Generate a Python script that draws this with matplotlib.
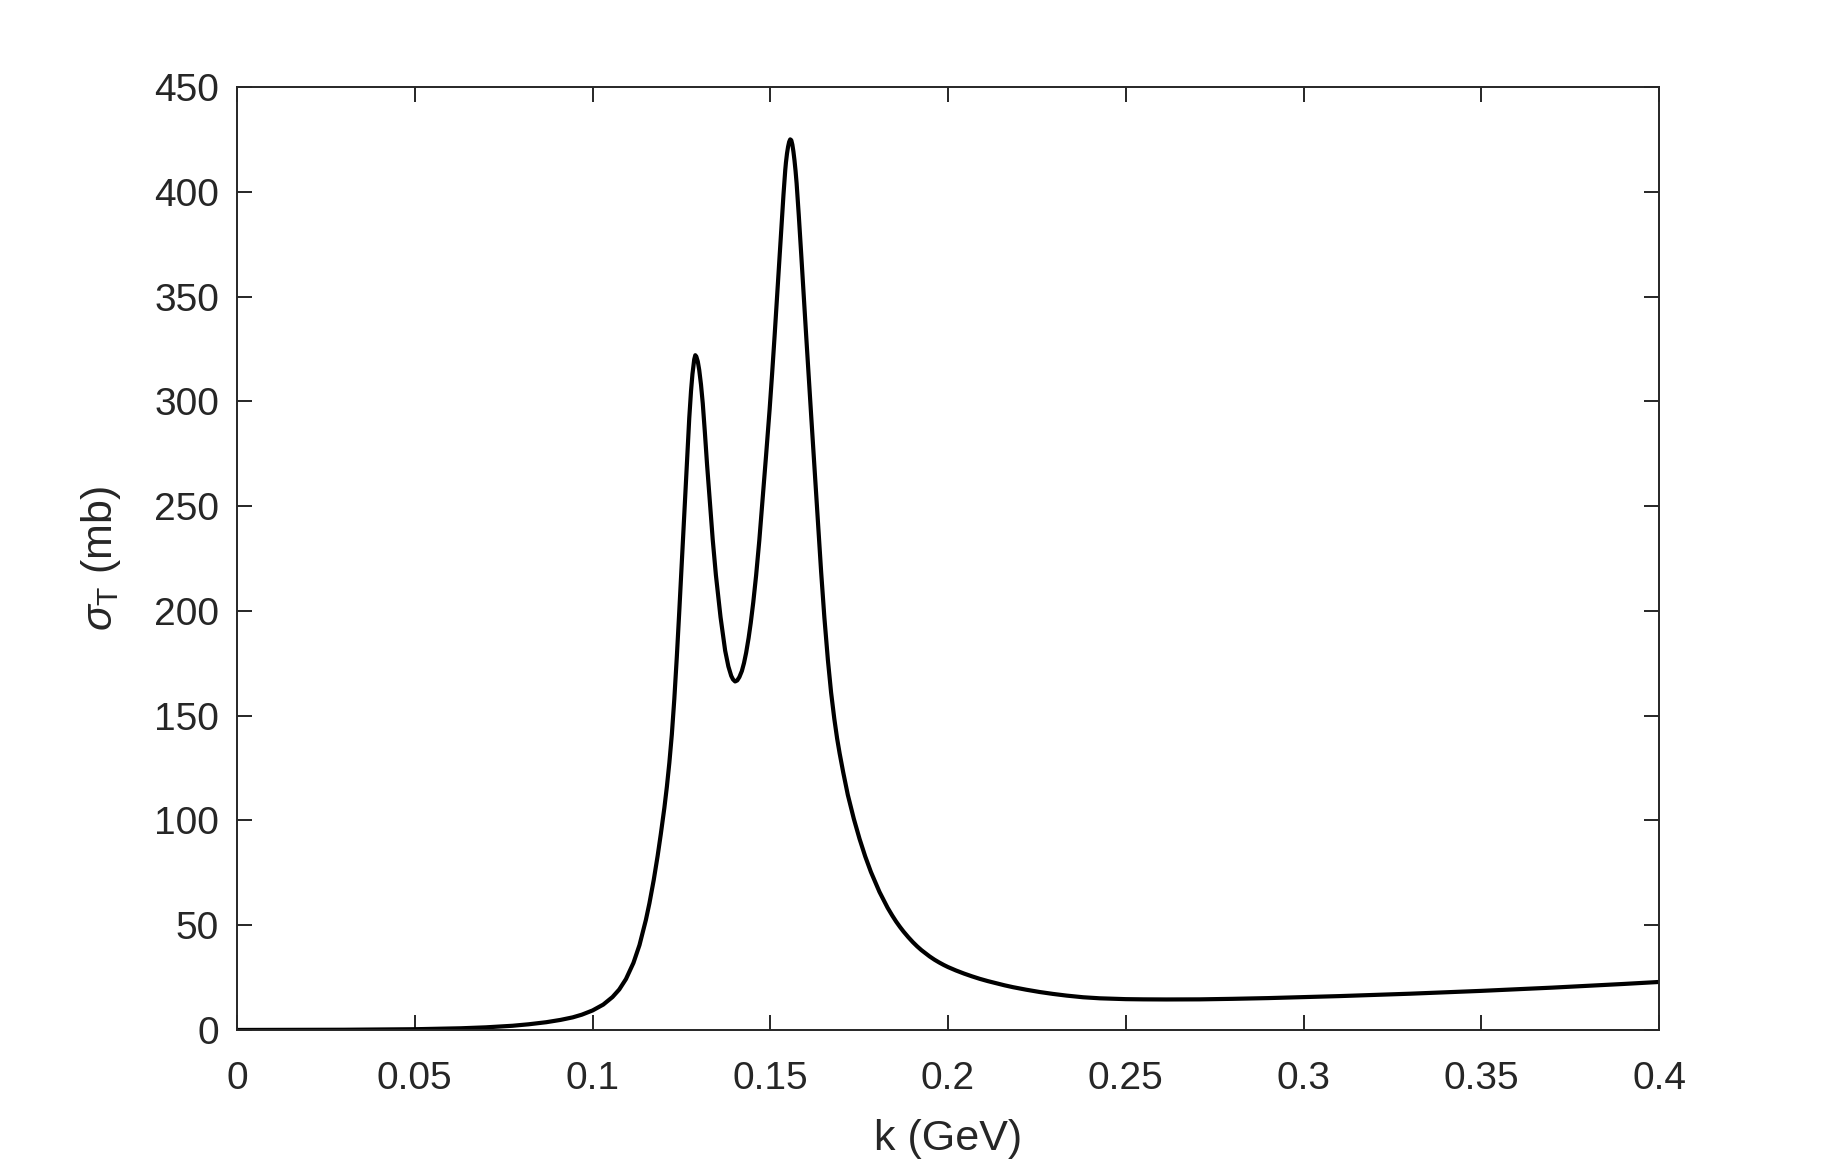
import numpy as np
import matplotlib
matplotlib.use('Agg')
import matplotlib.pyplot as plt

# valores: k (GeV) y sigma_T (mb)
k = [0.000, 0.020, 0.030, 0.040, 0.050, 0.063, 0.070, 0.0775, 0.082, 0.087,
     0.091, 0.0944, 0.097, 0.100, 0.103, 0.1056, 0.1075, 0.1094, 0.1115, 0.1132,
     0.1150, 0.1160, 0.1172, 0.1183, 0.1192, 0.1202, 0.1209, 0.1216, 0.1223, 0.1230,
     0.1237, 0.1244, 0.1251, 0.1258, 0.1265, 0.1272, 0.1277, 0.1281, 0.1286, 0.1289,
     0.1292, 0.1296, 0.1300, 0.1305, 0.1310, 0.1316, 0.1322, 0.1330, 0.1338, 0.1347,
     0.1360, 0.1373, 0.1382, 0.1390, 0.1395, 0.1401, 0.1407, 0.1413, 0.1420, 0.1426,
     0.1432, 0.1439, 0.1445, 0.1452, 0.1460, 0.1469, 0.1479, 0.1488, 0.1498, 0.1505,
     0.1512, 0.1526, 0.1533, 0.1537, 0.1540, 0.1542, 0.1544, 0.1547, 0.1550, 0.1553,
     0.1556, 0.1559, 0.1562, 0.1565, 0.1568, 0.1571, 0.1574, 0.1580, 0.1587, 0.1601,
     0.1615, 0.1629, 0.1636, 0.1643, 0.1652, 0.1662, 0.1671, 0.1680, 0.1688, 0.1695,
     0.1705, 0.1718, 0.1735, 0.1751, 0.1767, 0.1783, 0.1807, 0.1830, 0.1843, 0.1854,
     0.1865, 0.1875, 0.1888, 0.1901, 0.1913, 0.1925, 0.1937, 0.1948, 0.1962, 0.1975,
     0.1988, 0.2000, 0.2022, 0.2045, 0.2067, 0.2089, 0.2112, 0.2135, 0.2159, 0.2183,
     0.2220, 0.2258, 0.2295, 0.2333, 0.2380, 0.2427, 0.2500, 0.2550, 0.2614, 0.2708,
     0.2800, 0.2900, 0.3000, 0.3100, 0.3200, 0.3300, 0.3400, 0.3500, 0.3600, 0.3700,
     0.3800, 0.3900, 0.4000]
sigma = [0.0, 0.05, 0.1, 0.2, 0.35, 0.8, 1.25, 2.0, 2.7, 3.7,
         4.8, 6.0, 7.3, 9.3, 12.1, 15.7, 19.3, 24.3, 32.0, 40.5,
         52.5, 60.5, 71.5, 83, 93.5, 106, 116, 127.5, 141, 158,
         178, 200, 223, 246, 270, 292, 305, 313, 320, 322,
         321.3, 319, 315, 308, 299, 285, 270, 252, 234, 217,
         197, 181, 173.5, 169, 167.3, 166.3, 166.8, 168.4, 171.3, 175.1,
         180, 187.1, 194.3, 204, 216.8, 233.5, 254.8, 274, 296, 313,
         331, 369, 388, 398.5, 406, 410.3, 414, 418.3, 421.5, 423.8,
         425, 424.6, 422.5, 419.2, 415, 410, 404, 389, 370, 331,
         293, 256, 237, 218.5, 197, 176.5, 161, 148.5, 139, 132,
         123, 112.2, 100.7, 91.2, 82.8, 75.4, 65.9, 58.3, 54.6, 51.7,
         49.1, 46.9, 44.3, 41.9, 39.9, 38.1, 36.5, 35.1, 33.5, 32.2,
         31.0, 30.0, 28.4, 26.9, 25.6, 24.4, 23.3, 22.3, 21.3, 20.4,
         19.2, 18.1, 17.2, 16.4, 15.6, 15.1, 14.7, 14.6, 14.55, 14.6,
         14.85, 15.2, 15.65, 16.15, 16.7, 17.3, 17.95, 18.65, 19.4, 20.2,
         21.05, 21.95, 22.9]

xticks = [0, 0.05, 0.1, 0.15, 0.2, 0.25, 0.3, 0.35, 0.4]
xticklabels = ['0', '0.05', '0.1', '0.15', '0.2', '0.25', '0.3', '0.35', '0.4']
yticks = list(range(0, 451, 50))

plt.rcParams['font.family'] = ['Liberation Sans', 'DejaVu Sans']
plt.rcParams['mathtext.fontset'] = 'custom'
plt.rcParams['mathtext.rm'] = 'Liberation Sans'
plt.rcParams['mathtext.it'] = 'Liberation Sans:italic'

gris = '#262626'
fig = plt.figure(figsize=(18.32, 11.63), dpi=100)
ax = fig.add_axes([0.1294, 0.1144, 0.9056 - 0.1294, 0.9252 - 0.1144])
ax.plot(k, sigma, color='black', lw=3.0, solid_capstyle='round', solid_joinstyle='round')

ax.set_xlim(0, 0.4)
ax.set_ylim(0, 450)
ax.set_xticks(xticks)
ax.set_xticklabels(xticklabels)
ax.set_yticks(yticks)
ax.tick_params(direction='in', length=11, width=1.4, colors=gris, labelsize=28,
               top=True, right=True)
ax.tick_params(axis='x', pad=22)
ax.tick_params(axis='y', pad=13)
for s in ax.spines.values():
    s.set_color(gris)
    s.set_linewidth(1.4)

ax.set_xlabel('k (GeV)', fontsize=31, color=gris, labelpad=16)
ax.set_ylabel(r'$\sigma_\mathrm{T}$ (mb)', fontsize=31, color=gris, labelpad=22)

fig.savefig('out.png', dpi=100)
